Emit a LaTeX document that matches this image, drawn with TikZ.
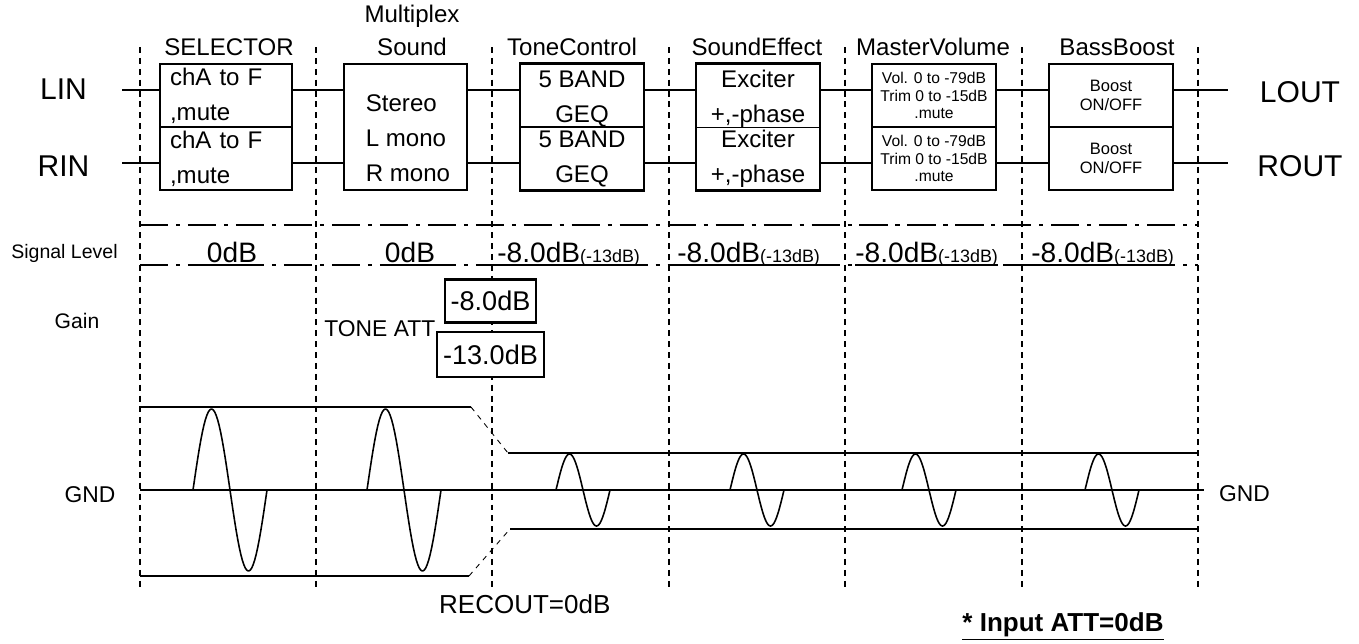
\documentclass[tikz,border=0pt]{standalone}
\usepackage{fontspec}
\setmainfont{Liberation Sans}
\usetikzlibrary{positioning}
\newcommand{\topstrut}{\rule{0pt}{13.5pt}}

\begin{document}
\begin{tikzpicture}[
    x=0.02cm, y=-0.02cm,
    half/.style={draw, line width=0.9pt, minimum width=2.48cm, minimum height=1.26cm, inner sep=0pt, outer sep=0pt, align=center, font=\fontsize{13.7}{20}\selectfont},
    frame/.style={line width=1.6pt},
    head/.style={font=\fontsize{13.7}{16}\selectfont},
    port/.style={font=\fontsize{17.1}{20}\selectfont},
    side/.style={font=\fontsize{11.1}{13}\selectfont},
    lvltxt/.style={inner sep=0pt, font=\fontsize{16}{18}\selectfont},
    att/.style={draw, line width=1.6pt, inner sep=0pt, fill=white, font=\fontsize{15.4}{18}\selectfont},
    sig/.style={line width=0.8pt},
    grid/.style={line width=0.7pt, dash pattern=on 3.4pt off 2.8pt},
    lvl/.style={line width=0.7pt, dash pattern=on 16pt off 4.5pt on 2.3pt off 4.5pt},
    rail/.style={line width=0.9pt},
    wave/.style={line width=0.9pt, line join=round}
]
\useasboundingbox (0,0) rectangle (1359,643);

% column borders
\foreach \x in {140,316,492,669,845,1022,1198}
    \draw[grid] (\x,47) -- (\x,588);
\draw[lvl] (140,225) -- (1198,225);
\draw[lvl] (140,265) -- (1198,265);

% blocks
\node[half, minimum width=2.64cm, text width=2.24cm, align=left] (selL) at (226,95.5) {chA to F\\,mute};
\node[half, minimum width=2.64cm, text width=2.24cm, align=left, below=0pt of selL] (selR) {chA to F\\,mute};
\node[draw, line width=1.6pt, minimum width=2.46cm, minimum height=2.52cm] (mpx) at (405.5,127) {};
\node[font=\fontsize{13.7}{20}\selectfont, align=left] (mpxtxt) at (408,138) {Stereo\\L mono\\R mono};
\node[half] (toneL) at (582,95.5) {\topstrut 5 BAND\\GEQ};
\node[half, below=0pt of toneL] (toneR) {5 BAND\\GEQ};
\node[half] (effL) at (758,95.5) {\topstrut Exciter\\+,-phase};
\node[half, below=0pt of effL] (effR) {Exciter\\+,-phase};
\node[half, font=\fontsize{8.9}{10}\selectfont] (volL) at (934,95.5) {Vol. 0 to -79dB\\Trim 0 to -15dB\\.mute};
\node[half, font=\fontsize{8.9}{10}\selectfont, below=0pt of volL] (volR) {Vol. 0 to -79dB\\Trim 0 to -15dB\\.mute};
\node[half, font=\fontsize{9.4}{10.8}\selectfont] (bassL) at (1111,95.5) {Boost\\ON/OFF};
\node[half, font=\fontsize{9.4}{10.8}\selectfont, below=0pt of bassL] (bassR) {Boost\\ON/OFF};
\foreach \b in {sel,tone,eff,vol,bass}
    \draw[frame] (\b L.north west) rectangle (\b R.south east);

% headers
\node[head] (hmpx) at (412,16) {Multiplex};
\node[head] (hsel) at (229,47) {SELECTOR};
\node[head] (hsnd) at (412,47) {Sound};
\node[head] (htone) at (572,47) {ToneControl};
\node[head] (heff) at (757,47) {SoundEffect};
\node[head] (hvol) at (933,47) {MasterVolume};
\node[head] (hbass) at (1117,47) {BassBoost};

% inputs and outputs
\node[port] (lin) at (63.5,89) {LIN};
\node[port] (rin) at (63.5,166) {RIN};
\node[port] (lout) at (1300,92) {LOUT};
\node[port] (rout) at (1300,166) {ROUT};
\coordinate (linS) at (122,90);
\coordinate (rinS) at (122,163);
\coordinate (loutS) at (1228,90);
\coordinate (routS) at (1228,163);

\draw[sig] (linS) -- (linS -| selL.west);
\draw[sig] (rinS) -- (rinS -| selR.west);
\foreach \a/\b in {selL/mpx, mpx/toneL, toneL/effL, effL/volL, volL/bassL}
    \draw[sig] (\a.east |- linS) -- (\b.west |- linS);
\foreach \a/\b in {selR/mpx, mpx/toneR, toneR/effR, effR/volR, volR/bassR}
    \draw[sig] (\a.east |- rinS) -- (\b.west |- rinS);
\draw[sig] (bassL.east |- loutS) -- (loutS);
\draw[sig] (bassR.east |- routS) -- (routS);

% signal level row
\node[side] (slevel) at (64.5,253) {Signal Level};
\node[lvltxt, anchor=base] (db1) at (232,262) {0dB};
\node[lvltxt, anchor=base] (db2) at (410,262) {0dB};
\foreach \x [count=\i from 3] in {497,677,855,1031}
    \node[lvltxt, anchor=base west] (db\i) at (\x,262) {-8.0dB{\fontsize{10.2}{12}\selectfont(-13dB)}};
\foreach \i in {1,...,6}
    \draw[sig] ([yshift=-1.7pt]db\i.base west) -- ([yshift=-1.7pt]db\i.base east);

% gain row
\node[side, font=\fontsize{12}{14}\selectfont] (gain) at (77,321) {Gain};
\node[att, minimum width=1.82cm, minimum height=0.86cm] (att8) at (490.5,301) {-8.0dB};
\node[att, minimum width=2.14cm, minimum height=0.9cm] (att13) at (490.5,354.5) {-13.0dB};
\node[font=\fontsize{13}{15}\selectfont, anchor=east, inner sep=0pt, yshift=1.1pt] (toneatt) at (att13.north west) {TONE ATT};

% levels
\draw[rail] (140,407) -- (471,407);
\draw[rail] (140,576) -- (469,576);
\draw[line width=0.5pt, dashed] (471,407) -- (508,453);
\draw[line width=0.5pt, dashed] (469,576) -- (510,529);
\draw[rail] (508,453) -- (1198,453);
\draw[rail] (510,529) -- (1198,529);
\draw[rail] (140,490) -- (1204,490);
\foreach \s in {193,367}
    \draw[wave] plot[domain=0:360, samples=49] ({\s+\x/360*74},{490-81*sin(\x)});
\foreach \s in {556,730,902,1085}
    \draw[wave] plot[domain=0:360, samples=49] ({\s+\x/360*54},{490-36*sin(\x)});

\node[font=\fontsize{13}{15}\selectfont] (gndL) at (90,495) {GND};
\node[font=\fontsize{13}{15}\selectfont, anchor=west] (gndR) at (1213,494) {GND};
\node[font=\fontsize{14.8}{17}\selectfont, anchor=west] (recout) at (433,604) {RECOUT=0dB};
\node[font=\fontsize{14.8}{17}\selectfont] (inatt) at (1063,627) {\underline{\textbf{* Input ATT=0dB}}};

\end{tikzpicture}
\end{document}
